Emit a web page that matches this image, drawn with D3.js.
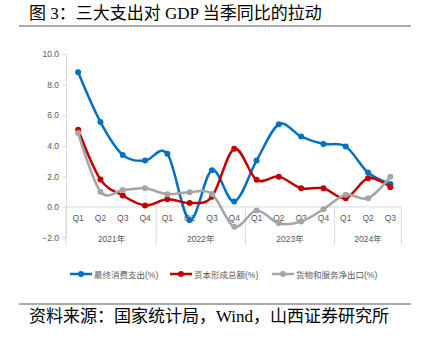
<!DOCTYPE html>
<html><head><meta charset="utf-8">
<script src="https://cdn.jsdelivr.net/npm/d3@7"></script>
<style>
html,body{margin:0;padding:0;background:#fff;}
svg{display:block;}
</style></head>
<body>
<svg id="c" width="425" height="351"></svg>
<script>
const quarters = ["Q1","Q2","Q3","Q4","Q1","Q2","Q3","Q4","Q1","Q2","Q3","Q4","Q1","Q2","Q3"];
const years = ["2021年","2022年","2023年","2024年"];
const yearSizes = [4,4,4,3];
const consumption = [8.8,5.55,3.4,3.03,3.47,-0.85,2.4,0.35,3.03,5.4,4.6,4.12,3.95,2.25,1.5];
const capital = [5.05,1.8,0.74,0.1,0.5,0.26,0.67,3.8,1.77,1.98,1.22,1.22,0.57,1.88,1.29];
const netExports = [4.83,1.0,1.1,1.22,0.83,0.96,0.85,-1.29,-0.24,-1.07,-0.96,-0.15,0.79,0.57,1.98];
const seriesNames = ["最终消费支出(%)","资本形成总额(%)","货物和服务净出口(%)"];
const yTicks = [-2,0,2,4,6,8,10];
const titleText = "图 3：三大支出对 GDP 当季同比的拉动";
const sourceText = "资料来源：国家统计局，Wind，山西证券研究所";

const colors = ["#0070C0","#C00000","#A5A5A5"];
const svg = d3.select("#c");
const idx = quarters.map((d,i)=>i);
const x = d3.scaleBand().domain(idx).range([67,401.5]);
const y = d3.scaleLinear().domain([-2,10]).range([237.5,54]);
const cx = i => x(i) + x.bandwidth()/2;
const axisColor = "#D9D9D9";
const labelColor = "#595959";
const tickFont = "'Liberation Sans', Arial, sans-serif";

// title and rules
svg.append("text").attr("x",29).attr("y",19).attr("font-size",17)
  .attr("font-family","'Liberation Serif','Noto Sans CJK SC',serif").attr("fill","#000").text(titleText);
svg.append("line").attr("x1",19).attr("x2",411).attr("y1",26).attr("y2",26).attr("stroke","#555").attr("stroke-width",1);
svg.append("line").attr("x1",19).attr("x2",411).attr("y1",304).attr("y2",304).attr("stroke","#555").attr("stroke-width",1);
svg.append("text").attr("x",29).attr("y",322).attr("font-size",17)
  .attr("font-family","'Liberation Serif','Noto Sans CJK SC',serif").attr("fill","#000").text(sourceText);

// y axis
const yAxis = d3.axisLeft(y).tickValues(yTicks).tickFormat(d3.format(".1f")).tickSize(3).tickPadding(4);
const gy = svg.append("g").attr("transform","translate(66,0)").call(yAxis);
gy.select(".domain").attr("stroke",axisColor);
gy.selectAll(".tick line").attr("stroke",axisColor);
gy.selectAll("text").attr("fill",labelColor).attr("font-size",8.5).attr("font-family",tickFont);

// category axis at zero
const gx = svg.append("g").attr("transform",`translate(0,${y(0)})`)
  .call(d3.axisBottom(x).tickSize(0).tickPadding(8).tickFormat(i=>quarters[i]));
gx.select(".domain").attr("stroke",axisColor).attr("d",`M66,0H${x.range()[1]}`);
gx.selectAll("text").attr("fill",labelColor).attr("font-size",8.5).attr("font-family",tickFont);

// group separators and year labels
let start = 0;
const sepBottom = 245;
svg.append("line").attr("x1",66).attr("x2",66).attr("y1",y(0)).attr("y2",sepBottom).attr("stroke",axisColor);
yearSizes.forEach((n,k)=>{
  const end = start + n - 1;
  const xr = x(end) + x.bandwidth();
  svg.append("line").attr("x1",xr).attr("x2",xr).attr("y1",y(0)).attr("y2",sepBottom).attr("stroke",axisColor);
  svg.append("text").attr("x",(cx(start)+cx(end))/2).attr("y",242).attr("text-anchor","middle")
    .attr("font-size",8.5).attr("font-family","'Liberation Sans','Noto Sans CJK SC',sans-serif")
    .attr("fill",labelColor).text(years[k]);
  start += n;
});

// series
const data = [consumption, capital, netExports];
const line = d3.line().x((d,i)=>cx(i)).y(d=>y(d)).curve(d3.curveCardinal.tension(0));
data.forEach((s,k)=>{
  const g = svg.append("g");
  g.append("path").attr("d",line(s)).attr("fill","none").attr("stroke",colors[k]).attr("stroke-width",2.5);
  g.selectAll("circle").data(s).join("circle").attr("cx",(d,i)=>cx(i)).attr("cy",d=>y(d)).attr("r",3).attr("fill",colors[k]);
});

// legend
const legendX = [70,170,272];
seriesNames.forEach((n,k)=>{
  const g = svg.append("g").attr("transform",`translate(${legendX[k]},274)`);
  g.append("line").attr("x1",0).attr("x2",22).attr("y1",0).attr("y2",0).attr("stroke",colors[k]).attr("stroke-width",2.5);
  g.append("circle").attr("cx",11).attr("cy",0).attr("r",3).attr("fill",colors[k]);
  g.append("text").attr("x",24).attr("y",3.5).attr("font-size",8.5)
    .attr("font-family","'Liberation Sans','Noto Sans CJK SC',sans-serif").attr("fill",labelColor).text(n);
});
</script>
</body></html>
